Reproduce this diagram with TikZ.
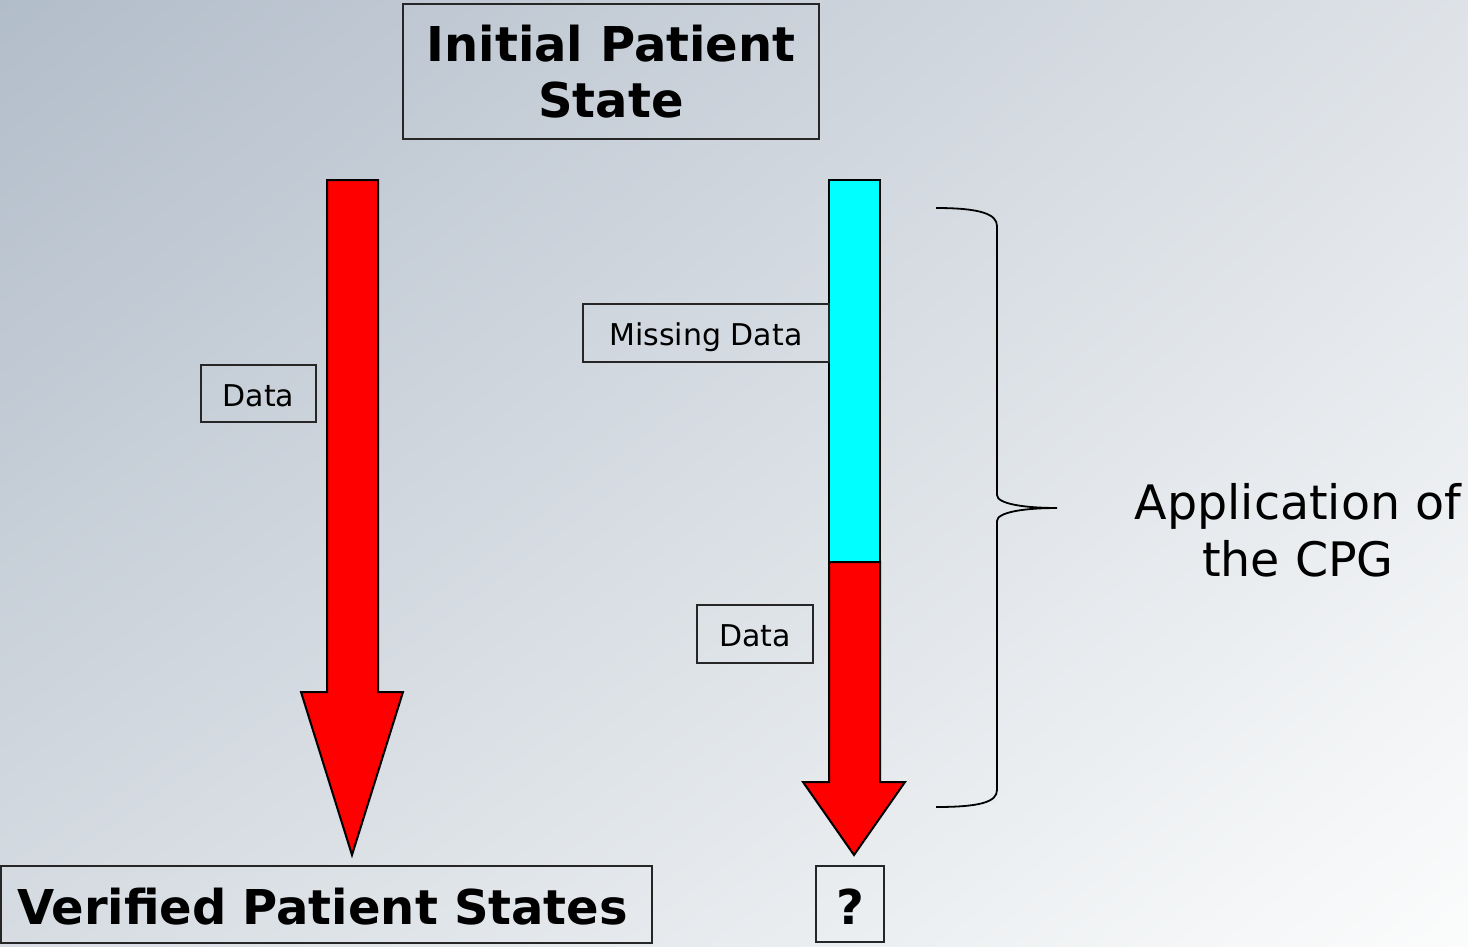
\documentclass[tikz,border=0pt]{standalone}
\usepackage{fontspec}
\usetikzlibrary{shadings}
\setmainfont{DejaVu Sans}
\definecolor{bgUL}{RGB}{178,189,202}
\definecolor{bgUR}{RGB}{222,226,231}
\definecolor{bgLL}{RGB}{214,220,226}
\definecolor{bgLR}{RGB}{251,252,252}
\definecolor{barcyan}{RGB}{0,255,255}
\definecolor{barred}{RGB}{255,0,0}
\begin{document}
\begin{tikzpicture}[x=1pt,y=-1pt,
  frame/.style={draw=black!85, line width=1.5pt, inner sep=0pt},
  bigbold/.style={font=\fontsize{48}{56}\selectfont\bfseries},
  plain/.style={font=\fontsize{30}{36}\selectfont, text height=25pt, text depth=0pt},
  blockarrow/.style={draw=black, line width=2pt, line join=miter, fill=barred},
  bar/.style={draw=black, line width=2pt, fill=barcyan},
  brace/.style={draw=black, line width=1.8pt}
]
% background
\shade[upper left=bgUL, upper right=bgUR, lower left=bgLL, lower right=bgLR]
  (0,0) rectangle (1468,946);
\useasboundingbox (0,0) rectangle (1468,946);

% title boxes
\node[frame, bigbold, minimum width=416pt, minimum height=135pt, align=center]
  (init) at (611,71.5) {Initial Patient\\State};
\node[frame, bigbold, minimum width=651pt, minimum height=77pt, inner xsep=16pt,
      text width=619pt, align=left, text height=40pt, text depth=0pt]
  (verified) at (326.5,904.5) {Verified Patient States};
\node[frame, bigbold, minimum width=68pt, minimum height=76pt,
      text height=40pt, text depth=0pt] (unknown) at (850,904) {?};

% left block arrow
\draw[blockarrow] (327,180) -- (378,180) -- (378,692) -- (403,692) -- (352,855)
  -- (301,692) -- (327,692) -- cycle;

% right bar: missing part then data part
\draw[bar] (829,180) rectangle (880,562);
\draw[blockarrow] (829,562) -- (880,562) -- (880,782) -- (905,782) -- (854,855)
  -- (803,782) -- (829,782) -- cycle;

% labels
\node[frame, plain, minimum width=115pt, minimum height=57pt] (dataL) at (258.5,393.5) {Data};
\node[frame, plain, minimum width=246pt, minimum height=58pt] (missing) at (706,333) {Missing Data};
\node[frame, plain, minimum width=116pt, minimum height=58pt] (dataR) at (755,634) {Data};

% brace
\coordinate (btop) at (936,208);
\coordinate (bbot) at (936,807);
\coordinate (btip) at (1057,508);
\draw[brace] (btop) .. controls (980,208) and (997,214) .. (997,226) -- (997,495)
  .. controls (997,504) and (1025,508) .. (btip)
  .. controls (1025,508) and (997,512) .. (997,521) -- (997,790)
  .. controls (997,802) and (980,807) .. (bbot);

\node[font=\fontsize{47.5}{57}\selectfont, align=center, inner sep=0pt] (cpg) at (1298,530)
  {Application of\\the CPG};
\end{tikzpicture}
\end{document}
